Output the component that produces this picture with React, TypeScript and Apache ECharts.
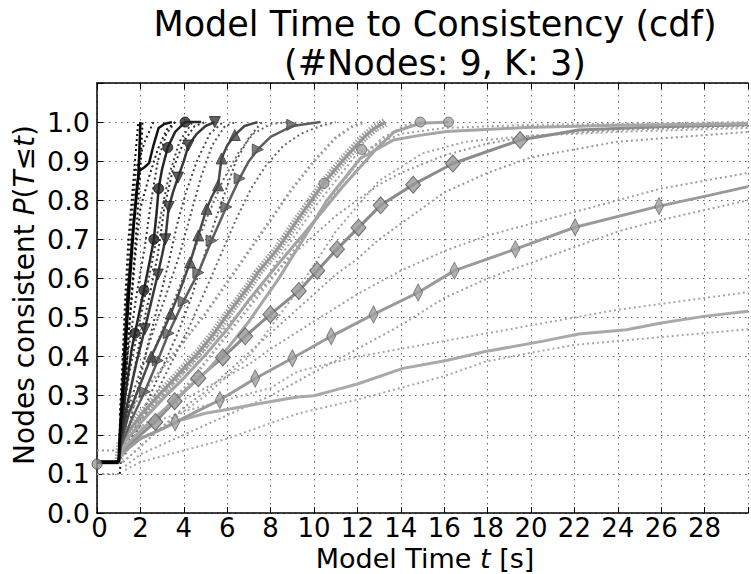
import React, { useEffect, useRef } from "react";
import * as echarts from "echarts";

const titleLine1 = "Model Time to Consistency (cdf)";
const titleLine2 = "(#Nodes: 9, K: 3)";
const yTickMax = 1.0;

// initial flat part (all runs) and its bands
const flatMain = [[0, 0.13], [1, 0.13]];
const flatHi = [[0, 0.16], [1, 0.16]];
const flatLo = [[0, 0.1], [1, 0.1]];
const startMarker = [[0, 0.125]];

// c1: black
const c1 = [[1, 0.13], [1.05, 0.2], [1.2, 0.3], [1.3, 0.4], [1.4, 0.5], [1.5, 0.58], [1.6, 0.66], [1.7, 0.74], [1.8, 0.8], [1.9, 0.86], [1.95, 0.92], [2.0, 1.0]];
const c1Hi = [[1.0, 0.16], [1.15, 0.35], [1.3, 0.55], [1.45, 0.7], [1.6, 0.8], [1.75, 0.9], [1.9, 1.0]];
const c1Lo = [[1.05, 0.1], [1.25, 0.25], [1.45, 0.45], [1.65, 0.6], [1.85, 0.75], [2.0, 0.88], [2.1, 1.0]];

// c2: near-black, kinked
const c2 = [[1, 0.13], [1.1, 0.25], [1.25, 0.4], [1.4, 0.55], [1.55, 0.65], [1.7, 0.75], [1.85, 0.84], [1.95, 0.875], [2.2, 0.885], [2.4, 0.895], [2.6, 0.94], [2.84, 0.985], [3.1, 0.995], [3.45, 1.0]];
const c2Hi = [[1.05, 0.25], [1.3, 0.5], [1.6, 0.75], [1.8, 0.88], [2.2, 0.95], [2.6, 1.0]];
const c2Lo = [[1.15, 0.2], [1.45, 0.45], [1.75, 0.65], [2.0, 0.78], [2.4, 0.86], [2.8, 0.93], [3.2, 0.98], [3.6, 1.0]];

// c3: circles
const c3 = [[1, 0.13], [1.1, 0.2], [1.3, 0.3], [1.6, 0.42], [1.9, 0.5], [2.16, 0.57], [2.45, 0.65], [2.62, 0.7], [2.75, 0.77], [2.84, 0.83], [3.0, 0.88], [3.26, 0.935], [3.6, 0.975], [4.06, 1.0], [4.8, 1.0]];
const c3Marks = [[1.75, 0.46], [2.16, 0.57], [2.62, 0.7], [2.84, 0.83], [3.26, 0.935], [4.06, 1.0]];
const c3Hi = [[1.05, 0.22], [1.4, 0.4], [1.8, 0.55], [2.2, 0.68], [2.5, 0.8], [2.8, 0.9], [3.2, 0.97], [3.6, 1.0]];
const c3Lo = [[1.2, 0.18], [1.6, 0.33], [2.0, 0.45], [2.4, 0.55], [2.8, 0.66], [3.1, 0.78], [3.5, 0.88], [4.0, 0.95], [4.5, 0.99], [5.0, 1.0]];

// c4: triangle down
const c4 = [[1, 0.13], [1.1, 0.19], [1.4, 0.28], [1.8, 0.38], [2.2, 0.47], [2.5, 0.54], [2.8, 0.61], [3.0, 0.66], [3.15, 0.7], [3.3, 0.78], [3.5, 0.82], [3.73, 0.858], [4.0, 0.9], [4.21, 0.94], [4.6, 0.97], [5.0, 0.99], [5.43, 1.0]];
const c4Marks = [[2.2, 0.47], [2.8, 0.61], [3.15, 0.7], [3.3, 0.783], [3.73, 0.858], [4.21, 0.94], [5.43, 1.0]];
const c4Hi = [[1.05, 0.2], [1.5, 0.36], [2.0, 0.5], [2.5, 0.63], [2.9, 0.75], [3.3, 0.86], [3.8, 0.95], [4.4, 1.0]];
const c4Lo = [[1.3, 0.18], [1.8, 0.3], [2.3, 0.42], [2.8, 0.53], [3.3, 0.64], [3.7, 0.74], [4.1, 0.82], [4.6, 0.9], [5.2, 0.97], [5.8, 1.0]];

// c5: triangle up
const c5 = [[1, 0.13], [1.1, 0.18], [1.5, 0.26], [2.0, 0.33], [2.5, 0.4], [3.0, 0.46], [3.4, 0.51], [3.76, 0.56], [4.29, 0.641], [4.67, 0.71], [5.05, 0.778], [5.3, 0.81], [5.58, 0.838], [5.74, 0.907], [6.0, 0.94], [6.35, 0.967], [6.8, 0.99], [7.4, 1.0]];
const c5Marks = [[2.5, 0.4], [3.4, 0.51], [4.29, 0.641], [4.67, 0.71], [5.05, 0.778], [5.58, 0.838], [5.74, 0.907], [6.35, 0.967]];
const c5Hi = [[1.05, 0.2], [1.8, 0.33], [2.5, 0.45], [3.2, 0.56], [3.8, 0.66], [4.3, 0.76], [4.8, 0.86], [5.3, 0.94], [5.9, 0.99], [6.4, 1.0]];
const c5Lo = [[1.3, 0.16], [2.2, 0.27], [3.0, 0.37], [3.8, 0.47], [4.4, 0.56], [4.9, 0.65], [5.4, 0.74], [5.9, 0.82], [6.4, 0.9], [7.0, 0.96], [7.6, 1.0]];

// c6: triangle right
const c6 = [[1, 0.13], [1.1, 0.17], [1.6, 0.24], [2.2, 0.31], [2.8, 0.39], [3.3, 0.46], [3.99, 0.542], [4.67, 0.615], [5.28, 0.697], [5.96, 0.783], [6.57, 0.856], [7.0, 0.9], [7.41, 0.93], [8.0, 0.962], [9.0, 0.99], [10.3, 1.0]];
const c6Marks = [[2.2, 0.31], [2.8, 0.39], [3.3, 0.46], [3.99, 0.542], [4.67, 0.615], [5.28, 0.697], [5.96, 0.783], [6.57, 0.856], [7.41, 0.93], [9.0, 0.993]];
const c6Hi = [[1.05, 0.2], [2.0, 0.33], [2.8, 0.44], [3.6, 0.55], [4.4, 0.66], [5.1, 0.76], [5.8, 0.85], [6.5, 0.92], [7.2, 0.97], [8.0, 0.995], [8.8, 1.0]];
const c6Lo = [[1.3, 0.15], [2.4, 0.27], [3.3, 0.37], [4.2, 0.47], [5.0, 0.57], [5.7, 0.66], [6.4, 0.75], [7.1, 0.83], [7.8, 0.89], [8.6, 0.94], [9.4, 0.97], [10.3, 0.99], [11.0, 1.0]];

// c7: light-gray cluster (hatched markers)
const c7 = [[1, 0.13], [1.1, 0.18], [2, 0.25], [3, 0.31], [4, 0.37], [4.67, 0.41], [5.4, 0.46], [6.04, 0.51], [7.0, 0.58], [7.41, 0.615], [8.32, 0.675], [9.24, 0.75], [10.46, 0.845], [11.37, 0.905], [12.28, 0.96], [12.8, 0.985], [13.3, 1.0]];
const c7Hi = [[1.05, 0.22], [2, 0.3], [3, 0.37], [4, 0.44], [5, 0.51], [6, 0.59], [7, 0.67], [8, 0.75], [9, 0.83], [10, 0.9], [11, 0.96], [11.8, 0.99], [12.3, 1.0]];
const c7Lo = [[1.2, 0.15], [2.2, 0.21], [3.2, 0.27], [4.2, 0.33], [5.2, 0.4], [6.2, 0.47], [7.2, 0.54], [8.2, 0.61], [9.2, 0.68], [10.2, 0.76], [11.2, 0.84], [12.2, 0.91], [13.2, 0.96], [14.2, 0.99], [15.0, 1.0]];

// c8: second cluster curve, circles at the end
const c8 = [[1, 0.13], [1.1, 0.17], [2, 0.23], [3, 0.29], [4, 0.345], [5, 0.405], [6, 0.47], [7, 0.545], [8.32, 0.635], [9.84, 0.735], [11.4, 0.84], [12.9, 0.933], [13.7, 0.975], [14.9, 0.997], [16.2, 1.0]];
const c8Marks = [[10.46, 0.843], [12.2, 0.93], [14.9, 1.0], [16.2, 1.0]];

// c9: solid plateau curve
const c9 = [[1, 0.13], [1.1, 0.16], [2, 0.21], [3, 0.26], [4, 0.31], [5, 0.36], [6, 0.42], [7, 0.49], [8.32, 0.595], [9.5, 0.7], [10.6, 0.8], [12.13, 0.907], [13.65, 0.954], [14.87, 0.966], [16.1, 0.976], [19.7, 0.986], [24, 0.992], [30, 0.996]];
const c9Hi = [[8, 0.62], [10, 0.78], [12, 0.92], [14, 0.97], [16, 0.985], [20, 0.993], [30, 1.0]];
const c9Lo = [[1.2, 0.13], [3, 0.22], [5, 0.3], [7, 0.4], [9, 0.55], [11, 0.72], [13, 0.85], [15, 0.92], [17, 0.95], [20, 0.965], [24, 0.975], [30, 0.985]];

// c10: large diamonds
const c10 = [[1, 0.13], [1.1, 0.16], [2, 0.2], [2.69, 0.233], [3.58, 0.286], [4.67, 0.345], [5.8, 0.398], [6.83, 0.452], [7.99, 0.508], [9.3, 0.568], [10.15, 0.62], [11.06, 0.675], [12.05, 0.73], [13.07, 0.787], [14.57, 0.84], [16.4, 0.894], [19.5, 0.954], [22.2, 0.98], [26, 0.988], [30, 0.993]];
const c10Marks = [[2.69, 0.233], [3.58, 0.286], [4.67, 0.345], [5.8, 0.398], [6.83, 0.452], [7.99, 0.508], [9.3, 0.568], [10.15, 0.62], [11.06, 0.675], [12.05, 0.73], [13.07, 0.787], [14.57, 0.84], [16.4, 0.894], [19.5, 0.954]];
const c10Hi = [[1.1, 0.19], [2, 0.24], [3, 0.3], [4, 0.36], [5, 0.42], [6, 0.48], [7, 0.54], [8, 0.6], [9, 0.66], [10, 0.71], [11, 0.76], [12, 0.8], [13, 0.84], [14, 0.87], [16, 0.915], [18, 0.945], [20, 0.965], [24, 0.98], [30, 0.99]];
const c10Lo = [[1.2, 0.13], [2, 0.17], [3, 0.22], [4, 0.27], [5, 0.31], [6, 0.36], [7, 0.41], [8, 0.46], [9, 0.51], [10, 0.56], [11, 0.61], [12, 0.65], [13, 0.7], [14, 0.74], [16, 0.82], [18, 0.87], [20, 0.91], [24, 0.95], [30, 0.975]];

// c11: thin diamonds
const c11 = [[1, 0.13], [1.1, 0.15], [2, 0.19], [3, 0.215], [3.6, 0.232], [4.6, 0.26], [5.66, 0.289], [7.29, 0.344], [9.0, 0.396], [10.79, 0.452], [12.74, 0.508], [14.8, 0.564], [16.47, 0.62], [19.28, 0.675], [22.03, 0.731], [25.9, 0.785], [28, 0.81], [30, 0.835]];
const c11Marks = [[3.6, 0.232], [5.66, 0.289], [7.29, 0.344], [9.0, 0.396], [10.79, 0.452], [12.74, 0.508], [14.8, 0.564], [16.47, 0.62], [19.28, 0.675], [22.03, 0.731], [25.9, 0.785]];
const c11Hi = [[1.1, 0.17], [2, 0.22], [3, 0.26], [4, 0.29], [5, 0.32], [6, 0.35], [7, 0.38], [8, 0.42], [10, 0.49], [12, 0.56], [14, 0.62], [16, 0.67], [18, 0.71], [20, 0.74], [22, 0.77], [24, 0.8], [26, 0.83], [28, 0.85], [30, 0.87]];
const c11Lo = [[1.3, 0.12], [2, 0.15], [4, 0.2], [6, 0.25], [8, 0.3], [10, 0.36], [12, 0.42], [14, 0.48], [16, 0.55], [18, 0.6], [20, 0.64], [22, 0.68], [24, 0.72], [26, 0.75], [28, 0.775], [30, 0.8]];

// c12: lowest curve
const c12 = [[1, 0.13], [1.1, 0.16], [2, 0.19], [3, 0.215], [3.83, 0.237], [5, 0.255], [6, 0.265], [7, 0.275], [8.1, 0.286], [9.24, 0.297], [10, 0.3], [11, 0.315], [12, 0.33], [14.1, 0.37], [16.1, 0.39], [17.9, 0.413], [20.5, 0.439], [22.2, 0.458], [24.4, 0.469], [26, 0.486], [27.96, 0.503], [30, 0.516]];
const c12Hi = [[1.1, 0.18], [2, 0.22], [4, 0.26], [6, 0.29], [8, 0.32], [9.24, 0.362], [12, 0.4], [14, 0.42], [16, 0.44], [18, 0.46], [20, 0.48], [22, 0.5], [24, 0.52], [26, 0.535], [28, 0.55], [30, 0.565]];
const c12Lo = [[1.3, 0.11], [2, 0.13], [4, 0.16], [6, 0.19], [8, 0.23], [9.24, 0.254], [12, 0.29], [14, 0.32], [16, 0.35], [17.9, 0.387], [20, 0.41], [22, 0.43], [24, 0.44], [26, 0.45], [28, 0.46], [30, 0.47]];

const FONT = "DejaVu Sans";

function solid(data: number[][], color: string, width: number) {
  return { type: "line", data, symbol: "none", silent: true, lineStyle: { color, width, type: "solid" } };
}
function dotted(data: number[][], color: string, width = 2) {
  return { type: "line", data, symbol: "none", silent: true, lineStyle: { color, width, type: [2, 3] } };
}
function marks(data: number[][], symbol: string, size: any, fill: string, border: string, rotate = 0) {
  return {
    type: "scatter", data, symbol, symbolSize: size, symbolRotate: rotate, silent: true, z: 3,
    itemStyle: { color: fill, borderColor: border, borderWidth: 1 },
  };
}

export default function App() {
  const ref = useRef<HTMLDivElement>(null);
  useEffect(() => {
    if (!ref.current) return;
    const chart = echarts.init(ref.current, undefined, { renderer: "svg" });
    const axisLine = { show: true, onZero: false, lineStyle: { color: "#000", width: 1.5 } };
    const tick = { show: true, inside: true, length: 6, lineStyle: { color: "#000", width: 1 } };
    const grid = { show: true, lineStyle: { color: "#666", width: 1, type: [1.5, 4.5] } };
    const series: any[] = [
      // bands (dotted)
      dotted(flatHi, "#999"), dotted(flatLo, "#999"),
      dotted(c12Hi, "#a8a8a8"), dotted(c12Lo, "#a8a8a8"),
      dotted(c11Hi, "#a0a0a0"), dotted(c11Lo, "#a0a0a0"),
      dotted(c10Hi, "#999999"), dotted(c10Lo, "#999999"),
      dotted(c9Hi, "#a3a3a3"), dotted(c9Lo, "#a3a3a3"),
      dotted(c7Hi, "#9a9a9a", 3), dotted(c7Lo, "#a5a5a5", 3),
      dotted(c6Hi, "#6a6a6a"), dotted(c6Lo, "#6a6a6a"),
      dotted(c5Hi, "#555"), dotted(c5Lo, "#555"),
      dotted(c4Hi, "#444"), dotted(c4Lo, "#444"),
      dotted(c3Hi, "#333"), dotted(c3Lo, "#333"),
      dotted(c2Hi, "#222"), dotted(c2Lo, "#222"),
      dotted(c1Hi, "#111"), dotted(c1Lo, "#111"),
      // main curves, light to dark
      solid(c12, "#a9a9a9", 3),
      solid(c11, "#9a9a9a", 3),
      solid(c10, "#8c8c8c", 3),
      solid(c9, "#a6a6a6", 3),
      { type: "line", data: c7, symbol: "none", silent: true, lineStyle: { color: "#a0a0a0", width: 9, type: [1.5, 1.5] } },
      solid(c8, "#a3a3a3", 3),
      solid(c7, "#969696", 3),
      solid(c6, "#5e5e5e", 2.5),
      solid(c5, "#4a4a4a", 2.5),
      solid(c4, "#383838", 2.5),
      solid(c3, "#262626", 2.5),
      solid(c2, "#111111", 2.5),
      solid(c1, "#000000", 2.5),
      solid(flatMain, "#000000", 4),
      // markers
      marks(c11Marks, "diamond", [9, 17], "#a0a0a0", "#666"),
      marks(c10Marks, "diamond", [15, 17], "#999999", "#555"),
      marks(c8Marks, "circle", 10, "#a0a0a0", "#666"),
      marks(c6Marks, "triangle", 11, "#5e5e5e", "#444", -90),
      marks(c5Marks, "triangle", 11, "#4a4a4a", "#333"),
      marks(c4Marks, "triangle", 11, "#383838", "#222", 180),
      marks(c3Marks, "circle", 10, "#262626", "#111"),
      marks(startMarker, "circle", 10, "#999", "#444"),
    ];
    chart.setOption({
      animation: false,
      backgroundColor: "#fff",
      grid: { left: 97, top: 83, width: 658, height: 430, containLabel: false },
      xAxis: [
        {
          type: "value", min: 0, max: 30, interval: 2, position: "bottom",
          axisLine, axisTick: tick, splitLine: grid,
          axisLabel: {
            color: "#000", fontSize: 26, fontFamily: FONT, margin: 2, lineHeight: 26,
            formatter: (v: number) => (v >= 30 ? "" : v === 0 ? "{z|0}" : String(v)),
            rich: { z: { fontSize: 26, fontFamily: FONT, color: "#000", padding: [0, 0, 0, 5] } },
          },
        },
        {
          type: "value", min: 0, max: 30, interval: 2, position: "top",
          axisLine, axisTick: tick, splitLine: { show: false }, axisLabel: { show: false },
        },
      ],
      yAxis: {
        type: "value", min: 0, max: 1.1, interval: 0.1,
        axisLine, axisTick: tick, splitLine: grid,
        axisLabel: {
          color: "#000", fontSize: 27, fontFamily: FONT, margin: 7,
          formatter: (v: number) => (v > yTickMax + 0.05 ? "" : v.toFixed(1)),
        },
      },
      graphic: [
        { type: "text", x: 435, y: 24, style: { text: titleLine1, fontSize: 35, fontFamily: FONT, fill: "#000", align: "center", verticalAlign: "middle" } },
        { type: "text", x: 435, y: 63, style: { text: titleLine2, fontSize: 35, fontFamily: FONT, fill: "#000", align: "center", verticalAlign: "middle" } },
        {
          type: "text", x: 425, y: 558,
          style: {
            text: "{n|Model Time }{i|t}{n| [s]}", align: "center", verticalAlign: "middle", fill: "#000",
            rich: { n: { fontSize: 27, lineHeight: 27, fontFamily: FONT, fill: "#000" }, i: { fontSize: 27, lineHeight: 27, fontFamily: FONT, fontStyle: "italic", fill: "#000" } },
          },
        },
        {
          type: "text", x: 24, y: 295, rotation: Math.PI / 2,
          style: {
            text: "{n|Nodes consistent }{i|P}{n|(}{i|T}{n|≤}{i|t}{n|)}", align: "center", verticalAlign: "middle", fill: "#000",
            rich: { n: { fontSize: 28, fontFamily: FONT, fill: "#000" }, i: { fontSize: 28, fontFamily: FONT, fontStyle: "italic", fill: "#000" } },
          },
        },
      ],
      series,
    });
    return () => chart.dispose();
  }, []);
  return <div ref={ref} style={{ position: "fixed", left: 0, top: 0, width: 751, height: 574, background: "#fff" }} />;
}
